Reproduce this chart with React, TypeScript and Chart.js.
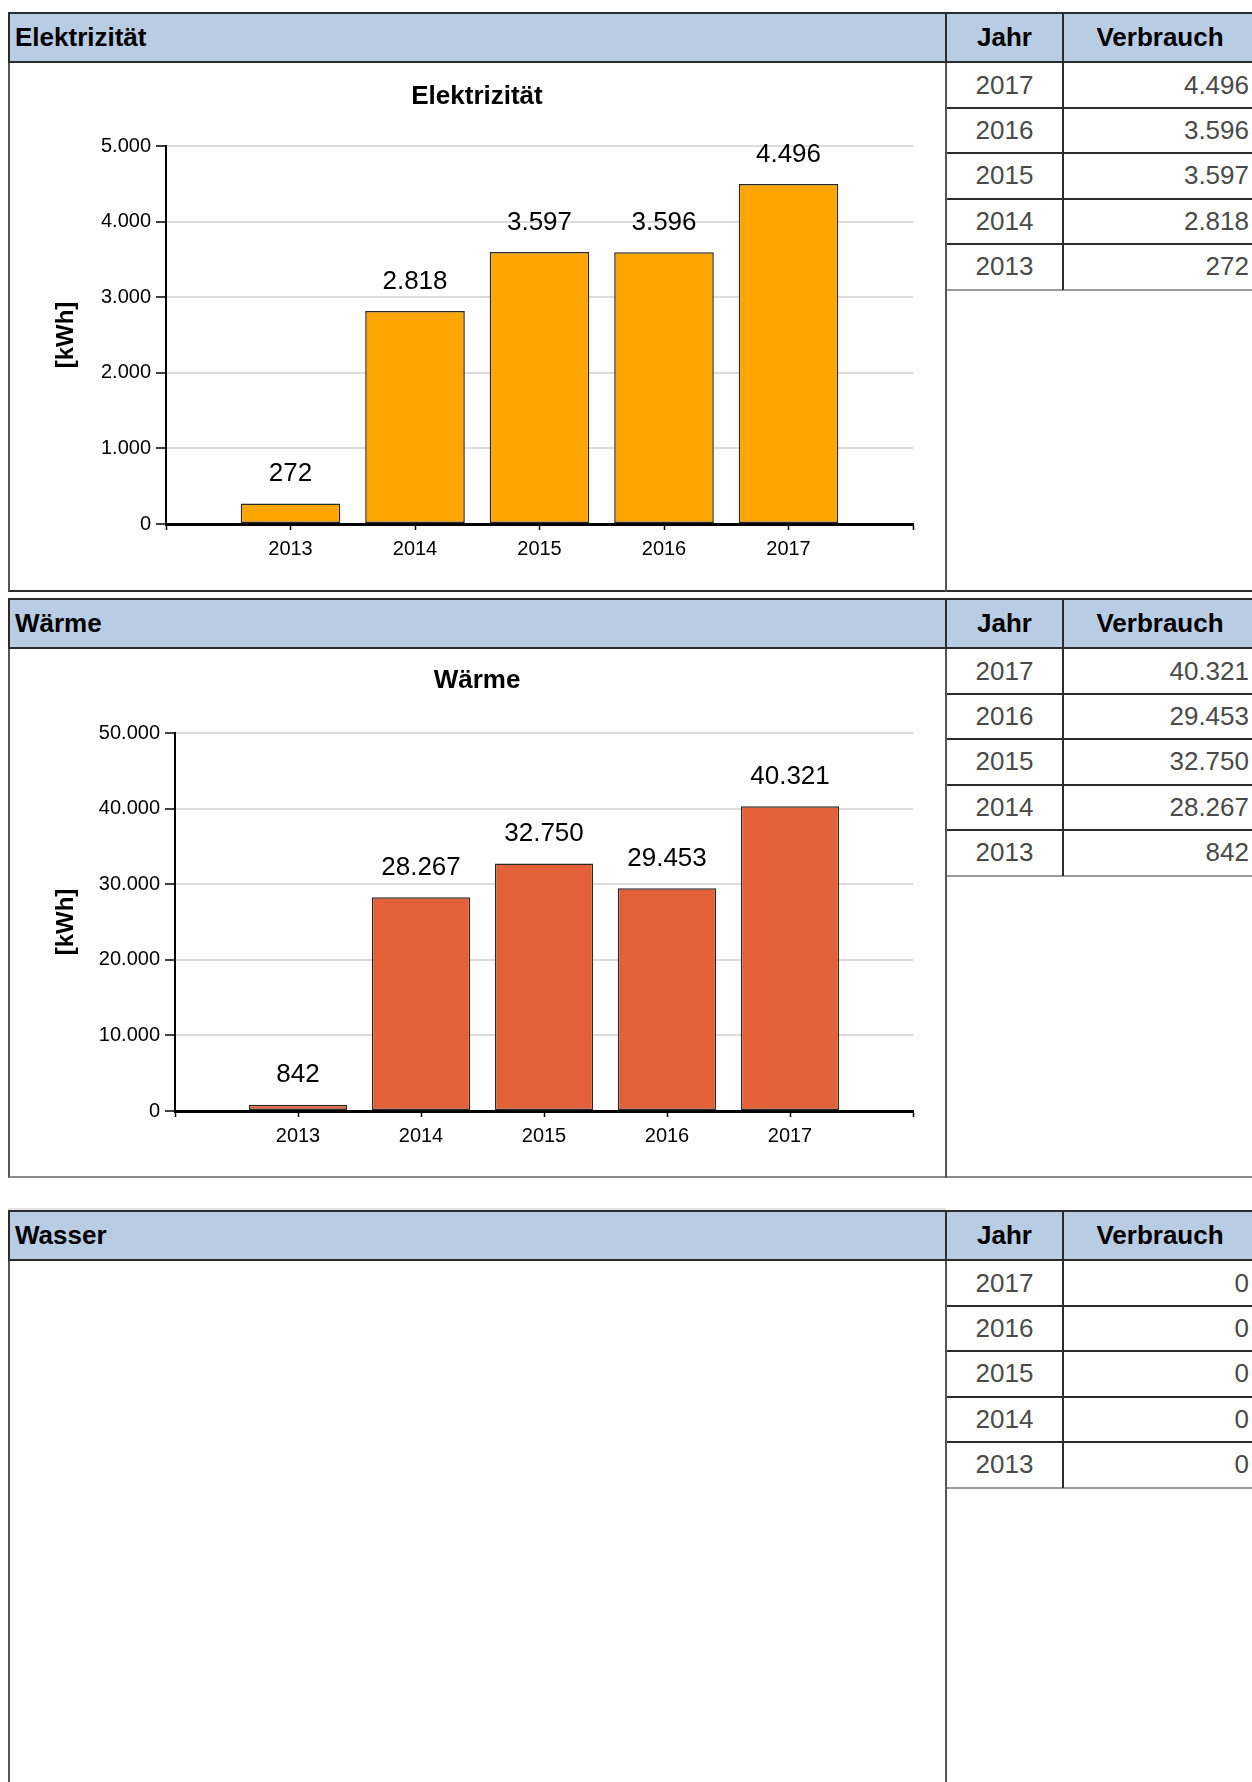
import React, { useEffect, useRef } from 'react';
import { Chart, registerables } from 'chart.js';

Chart.register(...registerables);

// ---------- data ----------
const YEARS = [2013, 2014, 2015, 2016, 2017];
const ELEKTRO_VALUES = [272, 2818, 3597, 3596, 4496];
const WAERME_VALUES = [842, 28267, 32750, 29453, 40321];
const WASSER_VALUES = [0, 0, 0, 0, 0];
const ELEKTRO_TICKS = [0, 1000, 2000, 3000, 4000, 5000];
const WAERME_TICKS = [0, 10000, 20000, 30000, 40000, 50000];
const X_MIN = 2012;
const X_MAX = 2018;
const UNIT_LABEL = '[kWh]';

const FONT = '"Liberation Sans", Arial, Helvetica, sans-serif';

function fmt(n: number): string {
  return String(Math.round(n)).replace(/\B(?=(\d{3})+(?!\d))/g, '.');
}

type Geo = {
  width: number;
  height: number;
  plotLeft: number;
  plotRight: number;
  plotTop: number;
  plotBottom: number;
  titleCenterY: number;
  axisTitleX: number;
};

function BarChart(props: {
  title: string;
  values: number[];
  ticks: number[];
  color: string;
  geo: Geo;
  left: number;
  top: number;
}) {
  const ref = useRef<HTMLCanvasElement | null>(null);
  const { title, values, ticks, color, geo, left, top } = props;

  useEffect(() => {
    if (!ref.current) return;
    const titleLH = 26 * 1.2;
    const axisTitleLH = 24 * 1.2;
    const labelPlugin = {
      id: 'valueLabels',
      afterDatasetsDraw(chart: any) {
        const ctx = chart.ctx;
        const meta = chart.getDatasetMeta(0);
        ctx.save();
        ctx.font = `26px ${FONT}`;
        ctx.fillStyle = '#000';
        ctx.textAlign = 'center';
        ctx.textBaseline = 'middle';
        meta.data.forEach((el: any, i: number) => {
          ctx.fillText(fmt(values[i]), el.x, el.y - 29.5);
        });
        ctx.restore();
      },
    };

    const chart = new Chart(ref.current, {
      type: 'bar',
      data: {
        datasets: [
          {
            data: YEARS.map((x, i) => ({ x, y: values[i] })),
            backgroundColor: color,
            borderColor: '#2a2a2a',
            borderWidth: 1.5,
            borderSkipped: false,
            barPercentage: 0.8,
            categoryPercentage: 1,
            yAxisID: 'y',
            xAxisID: 'x',
          } as any,
        ],
      },
      options: {
        responsive: false,
        animation: false,
        devicePixelRatio: 1,
        layout: {
          padding: 0,
        },
        plugins: {
          legend: { display: false },
          tooltip: { enabled: false },
          title: {
            display: true,
            text: title,
            color: '#000',
            font: { family: FONT, size: 26, weight: 'bold' },
            padding: {
              top: geo.titleCenterY - titleLH / 2,
              bottom: geo.plotTop - (geo.titleCenterY + titleLH / 2),
            },
          },
        },
        scales: {
          x: {
            type: 'linear',
            min: X_MIN,
            max: X_MAX,
            offset: false,
            afterFit: (s: any) => {
              s.height = geo.height - geo.plotBottom;
            },
            ticks: {
              stepSize: 1,
              autoSkip: false,
              maxRotation: 0,
              color: '#000',
              padding: 7,
              font: { family: FONT, size: 20 },
              callback: (v: any) => (YEARS.includes(Number(v)) ? String(v) : ''),
            },
            grid: {
              offset: false,
              drawOnChartArea: false,
              drawTicks: true,
              tickLength: 6,
              tickColor: '#000',
              tickWidth: 1.5,
            },
            border: { color: '#000', width: 3 },
          },
          y: {
            position: 'left',
            min: ticks[0],
            max: ticks[ticks.length - 1],
            afterFit: (s: any) => {
              s.width = geo.plotLeft;
            },
            afterBuildTicks: (s: any) => {
              s.ticks = ticks.map((v) => ({ value: v }));
            },
            ticks: {
              color: '#000',
              padding: 5,
              font: { family: FONT, size: 20 },
              callback: (v: any) => fmt(Number(v)),
            },
            grid: {
              color: '#dcdcdc',
              lineWidth: 2,
              tickColor: '#000',
              tickLength: 10,
              tickWidth: 1.5,
            },
            border: { color: '#000', width: 2 },
            title: {
              display: true,
              text: UNIT_LABEL,
              color: '#000',
              font: { family: FONT, size: 24, weight: 'bold' },
              padding: { top: geo.axisTitleX - axisTitleLH / 2, bottom: 0 },
            },
          },
          ySpacer: {
            type: 'linear',
            position: 'right',
            display: true,
            min: ticks[0],
            max: ticks[ticks.length - 1],
            afterFit: (s: any) => {
              s.width = geo.width - geo.plotRight;
            },
            ticks: { display: false },
            grid: { display: false, drawTicks: false },
            border: { display: false },
          },
        },
      } as any,
      plugins: [labelPlugin],
    });
    return () => chart.destroy();
  }, []);

  return (
    <canvas
      ref={ref}
      width={geo.width}
      height={geo.height}
      style={{ position: 'absolute', left, top, width: geo.width, height: geo.height }}
    />
  );
}

const abs = (s: React.CSSProperties): React.CSSProperties => ({ position: 'absolute', boxSizing: 'border-box', ...s });

const SEC_LEFT = 8;
const DIV_X = 946;
const COL_X = 1063;
const COL_R = 1257;
const HEADER_H = 50.5;
const ROW_H = 45.4;
const DARK = '#2c2c2c';

function Section(props: {
  title: string;
  top: number;
  bottom: number;
  values: number[];
  bottomBorder: string;
  children?: React.ReactNode;
}) {
  const { title, top, bottom, values, bottomBorder } = props;
  const hb = top + HEADER_H;
  const rows = YEARS.map((y, i) => ({ year: y, value: values[i] })).reverse();
  const tableBottom = hb + ROW_H * rows.length;
  return (
    <>
      <div
        style={abs({
          left: SEC_LEFT,
          top,
          width: 1300,
          height: bottom - top,
          borderLeft: '2px solid #555',
          borderBottom: bottomBorder,
          background: '#fff',
        })}
      />
      <div
        style={abs({
          left: SEC_LEFT,
          top,
          width: 1300,
          height: HEADER_H,
          background: '#b8cce4',
          borderTop: `2px solid ${DARK}`,
          borderBottom: `2px solid ${DARK}`,
          borderLeft: `2px solid ${DARK}`,
        })}
      />
      <div
        style={abs({
          left: 15,
          top,
          height: HEADER_H,
          lineHeight: `${HEADER_H}px`,
          fontFamily: FONT,
          fontWeight: 'bold',
          fontSize: 26,
          color: '#000',
          whiteSpace: 'nowrap',
        })}
      >
        {title}
      </div>
      <div
        style={abs({
          left: DIV_X,
          top,
          width: COL_X - DIV_X,
          height: HEADER_H,
          lineHeight: `${HEADER_H}px`,
          textAlign: 'center',
          fontFamily: FONT,
          fontWeight: 'bold',
          fontSize: 26,
          color: '#000',
        })}
      >
        Jahr
      </div>
      <div
        style={abs({
          left: COL_X,
          top,
          width: COL_R - COL_X,
          height: HEADER_H,
          lineHeight: `${HEADER_H}px`,
          textAlign: 'center',
          fontFamily: FONT,
          fontWeight: 'bold',
          fontSize: 26,
          color: '#000',
        })}
      >
        Verbrauch
      </div>
      {rows.map((r, i) => {
        const rt = hb + ROW_H * i;
        const last = i === rows.length - 1;
        return (
          <React.Fragment key={r.year}>
            <div
              style={abs({
                left: DIV_X,
                top: rt,
                width: COL_X - DIV_X,
                height: ROW_H,
                lineHeight: `${ROW_H}px`,
                textAlign: 'center',
                fontFamily: FONT,
                fontSize: 26,
                color: '#4a4a4a',
              })}
            >
              {r.year}
            </div>
            <div
              style={abs({
                left: COL_X,
                top: rt,
                width: COL_R - COL_X,
                height: ROW_H,
                lineHeight: `${ROW_H}px`,
                textAlign: 'right',
                paddingRight: 8,
                fontFamily: FONT,
                fontSize: 26,
                color: '#4a4a4a',
              })}
            >
              {fmt(r.value)}
            </div>
            <div
              style={abs({
                left: DIV_X,
                top: rt + ROW_H - 1,
                width: 400,
                height: 2,
                background: last ? '#9a9a9a' : DARK,
              })}
            />
          </React.Fragment>
        );
      })}
      <div style={abs({ left: DIV_X - 1, top, width: 2, height: HEADER_H, background: DARK })} />
      <div style={abs({ left: DIV_X - 1, top: hb, width: 1.5, height: bottom - hb, background: '#555' })} />
      <div style={abs({ left: COL_X - 1, top, width: 2, height: tableBottom - top, background: DARK })} />
      {props.children}
    </>
  );
}

const GEO_ELEKTRO: Geo = {
  width: 934,
  height: 525,
  plotLeft: 156,
  plotRight: 903,
  plotTop: 82,
  plotBottom: 460,
  titleCenterY: 33,
  axisTitleX: 56,
};

const GEO_WAERME: Geo = {
  width: 934,
  height: 524,
  plotLeft: 165,
  plotRight: 903,
  plotTop: 82,
  plotBottom: 460,
  titleCenterY: 30,
  axisTitleX: 56,
};

export default function App() {
  return (
    <div
      style={{
        position: 'fixed',
        left: 0,
        top: 0,
        width: 1252,
        height: 1782,
        overflow: 'hidden',
        background: '#fff',
      }}
    >
      <Section title="Elektrizität" top={12} bottom={592} values={ELEKTRO_VALUES} bottomBorder={`2px solid ${DARK}`}>
        <BarChart
          title="Elektrizität"
          values={ELEKTRO_VALUES}
          ticks={ELEKTRO_TICKS}
          color="#ffa500"
          geo={GEO_ELEKTRO}
          left={10}
          top={64}
        />
      </Section>
      <Section title="Wärme" top={598} bottom={1178} values={WAERME_VALUES} bottomBorder="2px solid #8a8a8a">
        <BarChart
          title="Wärme"
          values={WAERME_VALUES}
          ticks={WAERME_TICKS}
          color="#e46038"
          geo={GEO_WAERME}
          left={10}
          top={651}
        />
      </Section>
      <div style={abs({ left: SEC_LEFT, top: 1208, width: 938, height: 2, background: '#e4e4e4' })} />
      <Section title="Wasser" top={1210} bottom={1800} values={WASSER_VALUES} bottomBorder="none" />
    </div>
  );
}
